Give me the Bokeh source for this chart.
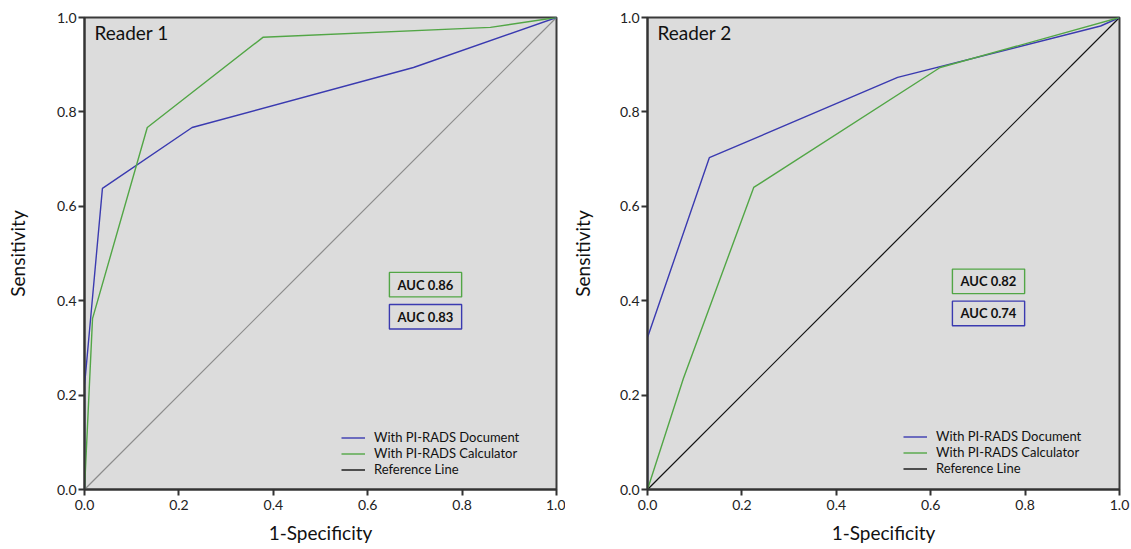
from bokeh.plotting import figure
from bokeh.layouts import row
from bokeh.models import (Range1d, FixedTicker, PrintfTickFormatter, Label,
                          BoxAnnotation, Legend, LegendItem)
from bokeh.embed import file_html
from bokeh.resources import INLINE

# ---------------- data ----------------
ticks = [0.0, 0.2, 0.4, 0.6, 0.8, 1.0]
ref_x = [0.0, 1.0]
ref_y = [0.0, 1.0]

r1_doc_x = [0.0, 0.0, 0.038, 0.228, 0.697, 1.0]
r1_doc_y = [0.0, 0.22, 0.638, 0.767, 0.894, 1.0]
r1_calc_x = [0.0, 0.017, 0.133, 0.378, 0.86, 1.0]
r1_calc_y = [0.0, 0.362, 0.767, 0.958, 0.979, 1.0]

r2_doc_x = [0.0, 0.0, 0.131, 0.53, 0.96, 1.0]
r2_doc_y = [0.0, 0.322, 0.703, 0.873, 0.982, 1.0]
r2_calc_x = [0.0, 0.076, 0.225, 0.62, 1.0]
r2_calc_y = [0.0, 0.235, 0.640, 0.894, 1.0]

readers = ["Reader 1", "Reader 2"]
auc_calc = ["AUC 0.86", "AUC 0.82"]
auc_doc = ["AUC 0.83", "AUC 0.74"]
legend_labels = ["With PI-RADS Document", "With PI-RADS Calculator", "Reference Line"]
x_title = "1-Specificity"
y_title = "Sensitivity"

BLUE = "#3a3ab0"
GREEN = "#52a646"
FONT = "Lato"
NAN = float("nan")


def make_panel(title, doc_x, doc_y, calc_x, calc_y, ref_color, calc_txt, doc_txt,
               width, height, b_left, b_right, b_top, b_bottom,
               title_y, box_y, leg_loc, ylab_standoff):
    p = figure(width=width, height=height, output_backend="svg", toolbar_location=None,
               x_range=Range1d(0, 1), y_range=Range1d(0, 1),
               min_border_left=b_left, min_border_right=b_right,
               min_border_top=b_top, min_border_bottom=b_bottom)
    p.background_fill_color = "#dcdcdc"
    p.border_fill_color = "white"
    p.outline_line_color = "#3a3a3a"
    p.outline_line_width = 2
    p.grid.visible = False

    for ax in (p.xaxis[0], p.yaxis[0]):
        ax.ticker = FixedTicker(ticks=ticks)
        ax.formatter = PrintfTickFormatter(format="%.1f")
        ax.axis_line_width = 2
        ax.axis_line_color = "#333333"
        ax.major_tick_line_width = 2
        ax.major_tick_line_color = "#333333"
        ax.major_tick_out = 6
        ax.major_tick_in = 0
        ax.minor_tick_line_color = None
        ax.major_label_text_font = FONT
        ax.major_label_text_font_size = "14px"
        ax.major_label_text_color = "#222222"
        ax.axis_label_text_font = FONT
        ax.axis_label_text_font_size = "19px"
        ax.axis_label_text_font_style = "normal"
        ax.axis_label_text_color = "#111111"
    p.xaxis.axis_label = x_title
    p.yaxis.axis_label = y_title
    p.xaxis.major_label_standoff = 4
    p.yaxis.major_label_standoff = 2
    p.xaxis.axis_label_standoff = 8
    p.yaxis.axis_label_standoff = ylab_standoff

    p.line(ref_x, ref_y, line_color=ref_color, line_width=1.2)
    r_doc = p.line(doc_x, doc_y, line_color=BLUE, line_width=1.4)
    r_calc = p.line(calc_x, calc_y, line_color=GREEN, line_width=1.4)
    # legend proxy for the reference line (drawn black in the legend)
    r_ref_leg = p.line(x=[NAN, NAN], y=[NAN, NAN], line_color="#111111", line_width=1.4)

    p.add_layout(Label(x=0.021, y=title_y, text=title, text_font=FONT,
                       text_font_size="19px", text_baseline="middle",
                       text_color="#111111"))

    # AUC boxes
    bx_l, bx_r = 0.646, 0.799
    h = 0.052
    gy, by = box_y
    p.add_layout(BoxAnnotation(left=bx_l, right=bx_r, bottom=gy - h / 2, top=gy + h / 2,
                               fill_alpha=0, line_color=GREEN, line_width=1.4,
                               line_alpha=1))
    p.add_layout(BoxAnnotation(left=bx_l, right=bx_r, bottom=by - h / 2, top=by + h / 2,
                               fill_alpha=0, line_color=BLUE, line_width=1.4,
                               line_alpha=1))
    p.add_layout(Label(x=bx_l + 0.017, y=gy, text=calc_txt, text_font=FONT,
                       text_font_size="13px", text_font_style="bold",
                       text_baseline="middle", text_color="#111111"))
    p.add_layout(Label(x=bx_l + 0.017, y=by, text=doc_txt, text_font=FONT,
                       text_font_size="13px", text_font_style="bold",
                       text_baseline="middle", text_color="#111111"))

    leg = Legend(items=[LegendItem(label=legend_labels[0], renderers=[r_doc]),
                        LegendItem(label=legend_labels[1], renderers=[r_calc]),
                        LegendItem(label=legend_labels[2], renderers=[r_ref_leg])],
                 location=leg_loc, padding=0, margin=0, spacing=0,
                 label_height=15, glyph_height=15, glyph_width=24,
                 label_standoff=9, label_text_font=FONT,
                 label_text_font_size="13px", label_text_color="#111111",
                 border_line_color=None, background_fill_alpha=0)
    p.add_layout(leg, "center")
    return p


p1 = make_panel(readers[0], r1_doc_x, r1_doc_y, r1_calc_x, r1_calc_y, "#8c8c8c",
                auc_calc[0], auc_doc[0],
                width=565, height=548, b_left=84, b_right=9, b_top=17, b_bottom=59,
                title_y=0.968, box_y=(0.434, 0.366), leg_loc=(257, 12),
                ylab_standoff=25)
p2 = make_panel(readers[1], r2_doc_x, r2_doc_y, r2_calc_x, r2_calc_y, "#111111",
                auc_calc[1], auc_doc[1],
                width=565, height=548, b_left=82, b_right=11, b_top=17, b_bottom=59,
                title_y=0.968, box_y=(0.441, 0.373), leg_loc=(256, 13),
                ylab_standoff=23)

layout = row(p1, p2)
open("out.html", "w").write(file_html(layout, INLINE))
